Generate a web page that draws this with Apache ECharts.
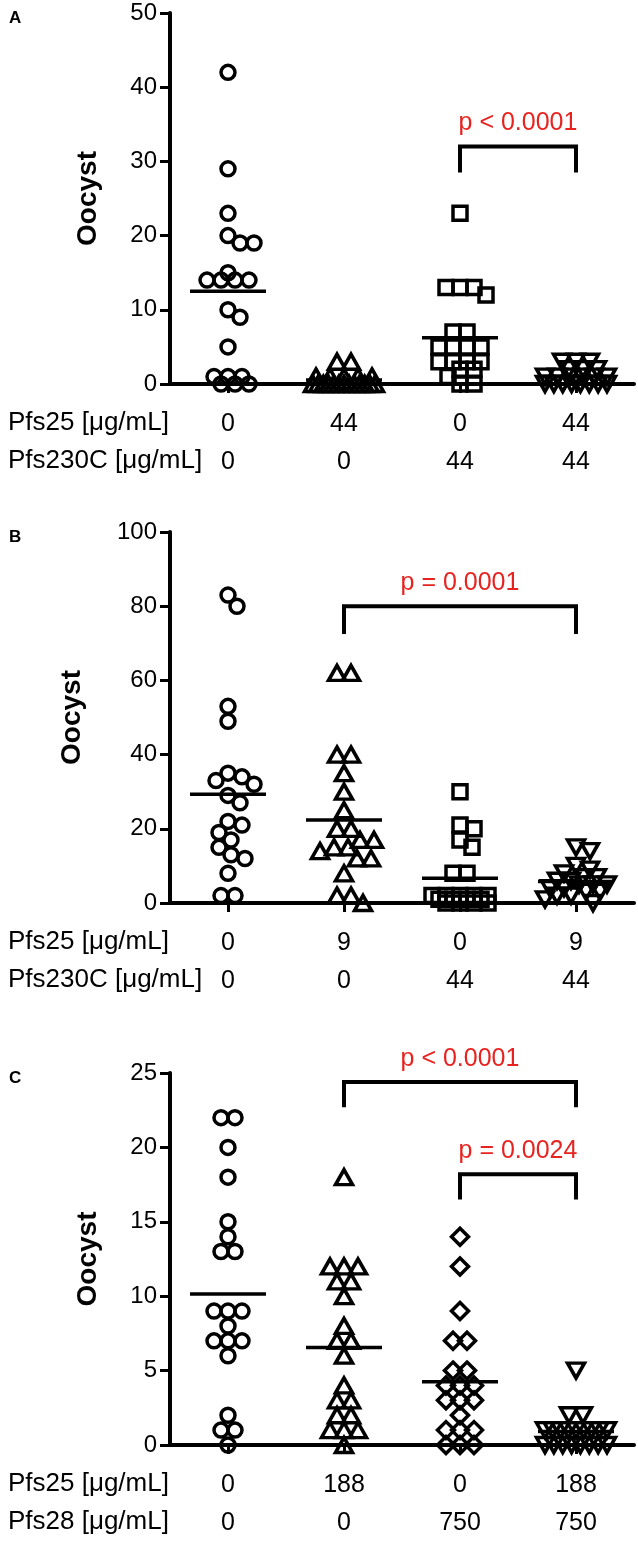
<!DOCTYPE html>
<html><head><meta charset="utf-8">
<script src="https://cdn.jsdelivr.net/npm/echarts@6/dist/echarts.min.js"></script>
<style>html,body{margin:0;padding:0;background:#fff}#c{width:638px;height:1546px}</style>
</head><body><div id="c"></div>
<script>
// ---------- DATA ----------
const panelLetters = ['A', 'B', 'C'];
const yMaxes = [50, 100, 25];
const ySteps = [10, 20, 5];
const yAxisTitle = 'Oocyst';

const rowNamesA = ['Pfs25 [μg/mL]', 'Pfs230C [μg/mL]'];
const rowValuesA = [['0', '44', '0', '44'], ['0', '0', '44', '44']];
const rowNamesB = ['Pfs25 [μg/mL]', 'Pfs230C [μg/mL]'];
const rowValuesB = [['0', '9', '0', '9'], ['0', '0', '44', '44']];
const rowNamesC = ['Pfs25 [μg/mL]', 'Pfs28 [μg/mL]'];
const rowValuesC = [['0', '188', '0', '188'], ['0', '0', '750', '750']];

// Panel A oocyst counts per group
const A_ctrl = [42, 29, 23, 20, 19, 19, 15, 14, 14, 14, 14, 10, 9, 5, 1, 1, 1, 0, 0, 0];
const A_pfs25 = [3, 3, 1, 1, 1, 1, 1, 0, 0, 0, 0, 0, 0, 0, 0, 0, 0, 0, 0, 0];
const A_pfs230 = [23, 13, 13, 13, 12, 7, 7, 5, 5, 5, 5, 3, 3, 3, 3, 2, 2, 1, 0, 0];
const A_combo = [3, 3, 3, 2, 2, 2, 1, 1, 1, 1, 1, 1, 0, 0, 0, 0, 0, 0, 0, 0];
// Panel B
const B_ctrl = [83, 80, 53, 49, 35, 34, 33, 32, 29, 27, 22, 21, 19, 17, 15, 13, 12, 8, 2, 2];
const B_pfs25 = [62, 62, 40, 40, 35, 30, 25, 20, 20, 17, 17, 15, 15, 14, 12, 12, 8, 2, 2, 0];
const B_pfs230 = [30, 21, 20, 17, 15, 8, 8, 2, 1, 2, 2, 2, 2, 1, 1, 1, 0, 0, 0, 0];
const B_combo = [15, 14, 10, 9, 8, 7, 7, 6, 6, 5, 5, 5, 4, 4, 3, 3, 2, 2, 1, 0];
// Panel C
const C_ctrl = [22, 22, 20, 18, 15, 14, 13, 13, 9, 9, 9, 8, 7, 7, 7, 6, 2, 1, 1, 0];
const C_pfs25 = [18, 12, 12, 12, 11, 11, 10, 8, 7, 7, 6, 4, 3, 3, 2, 2, 1, 1, 1, 0];
const C_pfs28 = [14, 12, 9, 7, 7, 5, 5, 4, 4, 4, 3, 3, 3, 2, 1, 1, 1, 0, 0, 0];
const C_combo = [5, 2, 2, 1, 1, 1, 1, 1, 1, 1, 1, 1, 0, 0, 0, 0, 0, 0, 0, 0];

// Significance annotations: [fromGroup, toGroup, bracketTop, legEnd, label]
const sigA = [[2, 3, 32, 28.5, 'p < 0.0001']];
const sigB = [[1, 3, 80, 72.5, 'p = 0.0001']];
const sigC = [[1, 3, 24.4, 22.7, 'p < 0.0001'], [2, 3, 18.2, 16.5, 'p = 0.0024']];

// ---------- LAYOUT / STYLE ----------
const FONT = "'Liberation Sans', Arial, Helvetica, sans-serif";
const gridLeft = 170, gridWidth = 464;
const gridTops = [13, 532, 1073];
const gridHeights = [371, 371, 372];
const nameGaps = [68, 84, 68];
const shapes = [
  { symbol: 'circle', size: 14, rotate: 0 },
  { symbol: 'triangle', size: [17, 15], rotate: 0 },
  { symbol: 'rect', size: 14, rotate: 0 },
  { symbol: 'triangle', size: [17, 15], rotate: 180 }
];
const shapesC = [shapes[0], shapes[1], { symbol: 'diamond', size: 17, rotate: 0 }, shapes[3]];

const panels = [
  { groups: [A_ctrl, A_pfs25, A_pfs230, A_combo], rowNames: rowNamesA, rowValues: rowValuesA, sig: sigA, shapes: shapes },
  { groups: [B_ctrl, B_pfs25, B_pfs230, B_combo], rowNames: rowNamesB, rowValues: rowValuesB, sig: sigB, shapes: shapes },
  { groups: [C_ctrl, C_pfs25, C_pfs28, C_combo], rowNames: rowNamesC, rowValues: rowValuesC, sig: sigC, shapes: shapesC }
];

// deterministic beeswarm (pixel space): equal values form a centred row,
// rows are shifted sideways to avoid overlapping rows already placed.
function swarm(values, pxPerUnit, bandPx) {
  const d = 14, maxHalf = 31;
  const uniq = Array.from(new Set(values)).sort((a, b) => b - a);
  const placed = [];
  const offs = new Array(values.length);
  for (const v of uniq) {
    const idx = values.map((x, i) => x === v ? i : -1).filter(i => i >= 0);
    const k = idx.length;
    const s = k > 1 ? Math.min(d, 2 * maxHalf / (k - 1)) : 0;
    const base = idx.map((_, j) => j * s - (k - 1) * s / 2);
    const lim = Math.floor(maxHalf - (k - 1) * s / 2);
    const y = v * pxPerUnit;
    let best = 0, bestScore = -1;
    for (let t = 0; t <= 2 * lim; t++) {
      const c = (t % 2 ? 1 : -1) * Math.ceil(t / 2);
      let minD = Infinity;
      for (const b of base) for (const p of placed) {
        const dist = Math.hypot(p.x - (b + c), p.y - y);
        if (dist < minD) minD = dist;
      }
      if (minD >= d) { best = c; bestScore = Infinity; break; }
      if (minD > bestScore + 1e-9) { bestScore = minD; best = c; }
    }
    idx.forEach((i, j) => {
      const x = base[j] + best;
      placed.push({ x: x, y: y });
      offs[i] = x / bandPx;
    });
  }
  return offs;
}

const mean = arr => arr.reduce((s, v) => s + v, 0) / arr.length;

const grid = [], xAxis = [], yAxis = [], series = [], graphic = [];
const bandPx = gridWidth / 4;

panels.forEach((pn, i) => {
  const axisY = gridTops[i] + gridHeights[i];
  grid.push({ left: gridLeft, top: gridTops[i], width: gridWidth, height: gridHeights[i], containLabel: false });
  xAxis.push({
    gridIndex: i, type: 'value', min: -0.5, max: 3.5,
    axisLine: { show: true, onZero: false, lineStyle: { color: '#000', width: 4 } },
    axisTick: { show: true, customValues: [0, 1, 2, 3], length: 9, lineStyle: { color: '#000', width: 3 } },
    axisLabel: {
      show: true, customValues: [0, 1, 2, 3], margin: 21, lineHeight: 38,
      fontSize: 25, color: '#000', fontFamily: FONT,
      formatter: v => pn.rowValues[0][Math.round(v)] + '\n' + pn.rowValues[1][Math.round(v)]
    },
    splitLine: { show: false }
  });
  yAxis.push({
    gridIndex: i, type: 'value', min: 0, max: yMaxes[i], interval: ySteps[i],
    name: yAxisTitle, nameLocation: 'middle', nameGap: nameGaps[i], nameRotate: 90,
    nameTextStyle: { fontSize: 28, fontWeight: 'bold', color: '#000', fontFamily: FONT },
    axisLine: { show: true, onZero: false, lineStyle: { color: '#000', width: 4 } },
    axisTick: { show: true, length: 10, lineStyle: { color: '#000', width: 3 } },
    axisLabel: { fontSize: 24, color: '#000', margin: 13, fontFamily: FONT },
    splitLine: { show: false }
  });
  const pxPerUnit = gridHeights[i] / yMaxes[i];
  pn.groups.forEach((vals, g) => {
    const offs = swarm(vals, pxPerUnit, bandPx);
    const sh = pn.shapes[g];
    series.push({
      type: 'scatter', xAxisIndex: i, yAxisIndex: i, silent: true, animation: false,
      symbol: sh.symbol, symbolSize: sh.size, symbolRotate: sh.rotate,
      itemStyle: { color: 'rgba(0,0,0,0)', borderColor: '#000', borderWidth: 3.5, opacity: 1 },
      data: vals.map((v, j) => [g + offs[j], v])
    });
  });
  // mean lines
  series.push({
    type: 'custom', xAxisIndex: i, yAxisIndex: i, silent: true, animation: false, z: 5,
    data: pn.groups.map((vals, g) => [g, mean(vals)]),
    renderItem: (params, api) => {
      const p = api.coord([api.value(0), api.value(1)]);
      return { type: 'line', shape: { x1: p[0] - 38, y1: p[1], x2: p[0] + 38, y2: p[1] },
        style: { stroke: '#000', lineWidth: 3.5 } };
    }
  });
  // significance brackets
  series.push({
    type: 'custom', xAxisIndex: i, yAxisIndex: i, silent: true, animation: false, z: 5,
    encode: { x: [0, 1], y: [2, 3] },
    data: pn.sig.map(s => [s[0], s[1], s[2], s[3]]),
    renderItem: (params, api) => {
      const s = pn.sig[params.dataIndex];
      const a = api.coord([s[0], s[2]]), b = api.coord([s[1], s[2]]);
      const la = api.coord([s[0], s[3]]);
      return {
        type: 'group', children: [
          { type: 'polyline', shape: { points: [[a[0], la[1]], [a[0], a[1]], [b[0], b[1]], [b[0], la[1]]] },
            style: { stroke: '#000', lineWidth: 4, fill: null, lineJoin: 'miter' } },
          { type: 'text', style: { text: s[4], x: (a[0] + b[0]) / 2, y: a[1] - 23, align: 'center',
            verticalAlign: 'middle', fill: '#e8231f', font: '25px ' + FONT } }
        ]
      };
    }
  });
  // row names under the x axis
  pn.rowNames.forEach((nm, r) => {
    graphic.push({ type: 'text', left: 8, top: axisY + 41 + r * 38 - 15,
      style: { text: nm, fill: '#000', font: '26px ' + FONT } });
  });
  graphic.push({ type: 'text', left: 9, top: gridTops[i] - 3,
    style: { text: panelLetters[i], fill: '#000', font: 'bold 17px ' + FONT } });
});

const chart = echarts.init(document.getElementById('c'), null, { renderer: 'canvas' });
chart.setOption({
  animation: false, backgroundColor: '#fff',
  textStyle: { fontFamily: FONT },
  grid, xAxis, yAxis, series, graphic
});
</script></body></html>
